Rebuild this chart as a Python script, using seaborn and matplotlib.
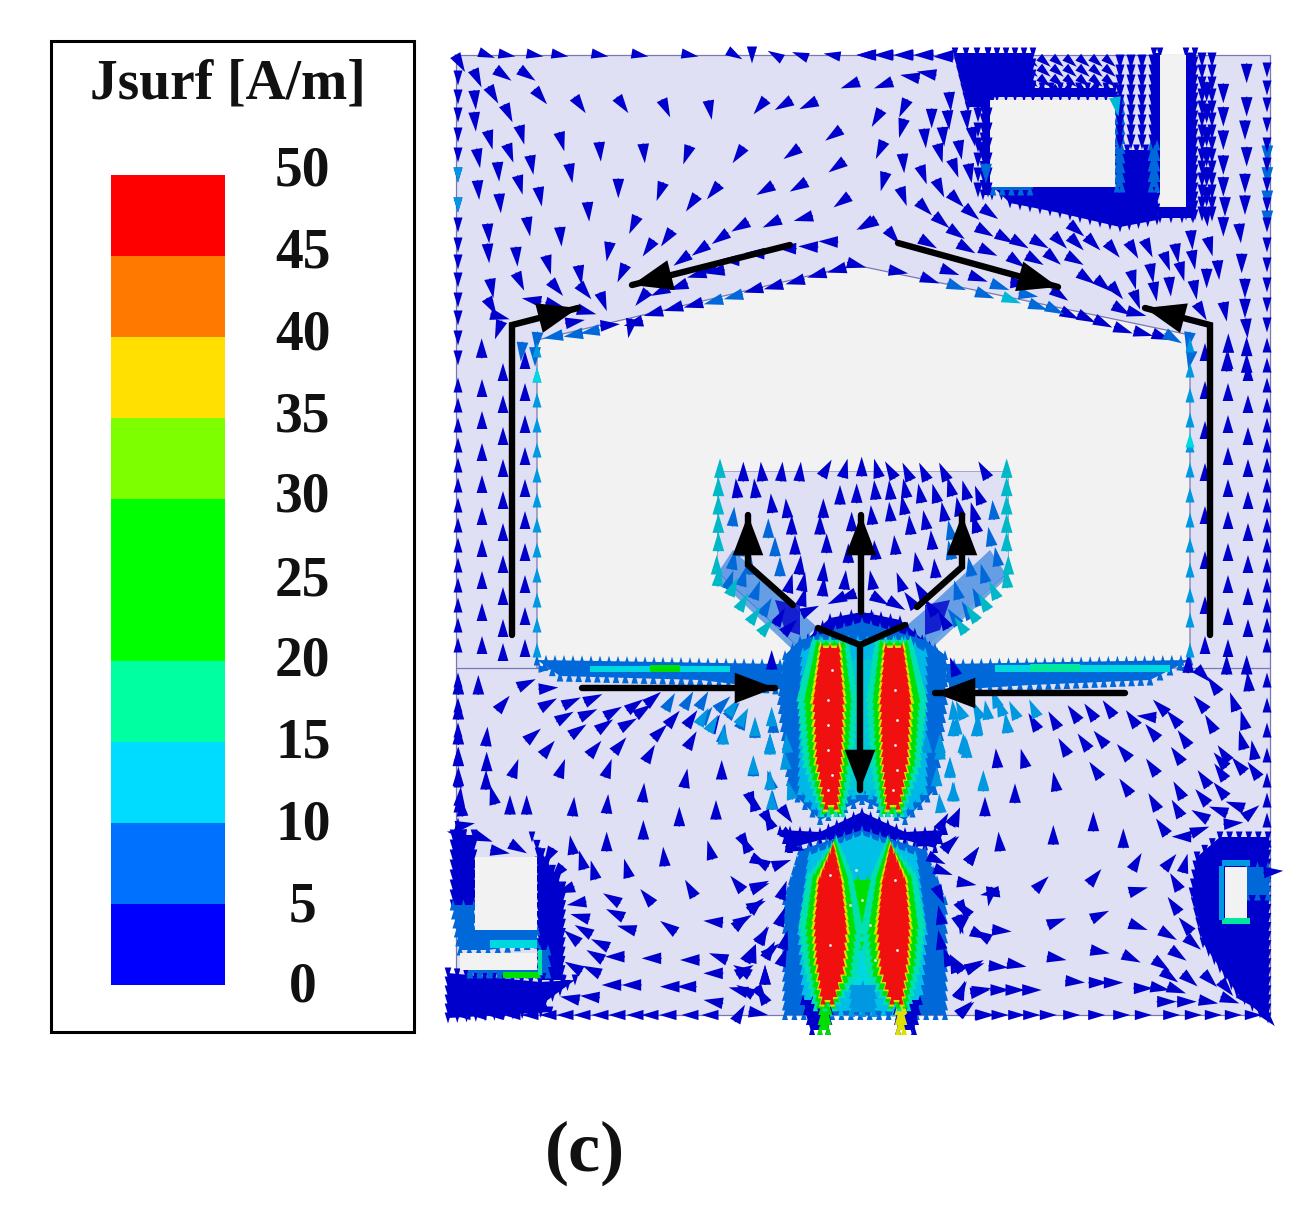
import numpy as np
import itertools
import matplotlib
matplotlib.use("Agg")
import matplotlib.pyplot as plt
from matplotlib.colors import ListedColormap
from matplotlib.patches import Polygon, Rectangle
from matplotlib.transforms import ScaledTranslation
import seaborn as sns

# ---------- legend data ----------
legend_title = "Jsurf [A/m]"
legend_ticks = ["50", "45", "40", "35", "30", "25", "20", "15", "10", "5", "0"]
legend_bins = [45, 40, 35, 30, 25, 20, 15, 10, 5, 0]
bin_colors = ["#0000ff", "#0070ff", "#00dcff", "#00ffa0", "#00ff00", "#00ff00",
              "#7dff00", "#ffe000", "#ff7800", "#ff0000"]
label_nudge = [4, 3, 2, 1, 1, -1, -1, -1, -2, -3, -3]

DARK, MID, SKY, CYAN, TEAL = "#0000cc", "#0068d8", "#0098e0", "#00d8e0", "#00e8a0"
GREEN, YELLOW, RED = "#00e000", "#e0e000", "#f01010"

nw_field = [(60,70,-60),(112,115,-65),(190,105,-35),(262,105,-35),(160,165,-60),(302,170,-50),(205,220,-65),
 (420,195,-55),(548,195,-55),(678,205,-65),(810,210,-80),(960,200,-130),(1030,195,-150),(1105,195,-155),(1230,135,-160),
 (150,300,-75),(210,340,-70),(245,285,-75),(365,305,-75),(480,335,-85),(612,340,-85),(740,345,-110),(895,345,-125),
 (1055,340,-145),(1180,285,-145),(105,180,-85),(105,245,-85),(115,355,-80),(175,395,-85),(275,375,-80),(392,400,-80),
 (115,450,-85),(240,435,-75),(180,490,-85),(300,470,-80),(535,445,-90),(660,455,-110),(755,490,-125),(820,455,-130),
 (975,450,-150),(1075,440,-150),(1190,380,-145),(1205,485,-145),(445,515,-85),(265,560,-80),(362,590,-85),(145,580,-85),
 (145,640,-85),(230,650,-85),(325,675,-75),(420,705,-80),(505,635,-100),(580,555,-115),(625,625,-125),(680,595,-125),
 (840,595,-145),(900,560,-150),(995,550,-155),(1090,535,-165),(1165,605,178),(1105,620,178),(1275,555,-150),(780,630,-145),
 (725,660,-145),(545,700,-115),(605,775,-130),(660,755,-155),(715,740,-160),(770,705,-165),(825,695,-170),(240,725,-65),
 (350,745,-50),(435,755,-50),(490,785,-70),(275,780,170),(155,745,-80),(155,800,-60),(175,870,-110),(125,925,90),(180,830,-15),
 (345,795,-15),(440,815,-15),(405,845,10),(510,855,5),(570,865,-100),(580,850,195),(640,820,195),(700,805,195),(760,795,195),
 (940,750,195),(1000,740,195),(1065,725,195),(1130,705,195),(1190,690,195),(1250,675,-15),
 (1040,625,178),(945,640,178),(870,660,178),(800,690,195)]
nw_mid = [(820,785,195),(880,770,195),(450,875,190),(400,885,190),(340,890,190),(290,905,-95),(245,935,-95),(285,950,-90)]

ne_field = [(70,135,-160),(50,235,-120),(130,205,-115),(125,265,-105),(60,330,-115),(130,370,-85),(70,425,-105),(190,405,-70),
 (130,470,-70),(240,445,-65),(195,505,-45),(290,480,-45),(245,545,-40),(335,520,-40),(290,580,-35),(390,520,-35),(375,575,-30),
 (435,595,-30),(320,625,-30),(385,635,-25),(480,610,-30),(540,610,-30),(600,605,-45),(650,610,-45),(470,665,-35),(525,660,-30),
 (580,655,-40),(645,660,-30),(205,610,-30),(100,590,-50),(25,555,-150),(115,695,-10),(210,720,-20),(270,695,-20),(355,715,-20),
 (480,730,-5),(630,825,-25),(680,835,-25),(730,850,-25),(790,870,-20),(850,880,-15),(905,890,-20),(600,765,-35),(680,715,-35),
 (730,735,-40),(770,755,-50),(785,810,-30),(830,820,-15),(820,720,-75),(830,780,-70),(875,700,-80),(885,755,-80),(930,740,-85),
 (865,625,-65),(920,665,-70),(965,695,-75),(1005,750,-80),(1025,815,-60),(950,640,-80),(1000,660,-80),(1040,715,-90),(1075,690,-85),
 (1095,815,-80),(995,600,-85),(1050,620,-75),(1090,440,-90),(1095,500,-90),(1090,560,-90),(1145,670,-90),(1155,745,-90),
 (1160,865,-85),(1155,805,-90),(1140,580,-85),(1155,495,-90),(1155,430,-90),(1160,350,-90),(1155,270,-90),(1160,200,-90),
 (1160,100,-90),(1040,155,-90),(1040,220,-90),(1040,290,-90),(1040,350,-90),(1040,410,-90),(1040,470,-90),(1040,530,-85),
 (1090,160,-90),(1090,230,-90),(1090,300,-90),(1090,375,-90),(820,630,-60),(760,630,-50),(700,610,-45),(650,570,-40),
 (1105,910,90),(1100,965,90),(1160,920,90),(1160,970,90),(215,235,-90),(195,295,-85),(250,290,-85),(300,330,-80),
 (240,340,-75),(285,385,-70),(330,400,-80),(270,185,-85),(320,240,-85),(265,240,-85),(340,290,-80),(370,340,-85),(150,110,170),
 (200,100,170),(130,45,180),(70,45,180),(20,45,180),(190,45,180),(250,50,180)]
ne_mid = [(290,740,-20),(375,765,-20),(420,740,-20),(505,765,-10),(535,800,-20),(585,810,-25),(940,895,-30),(985,905,-100),
 (990,960,-100),(378,400,-90),(1222,345,-90),(1222,410,-90),(1222,480,-90),(1222,540,-90)]
ne_teal = [(455,780,-20),(770,200,-80)]

sw_field = [(190,130,50),(260,70,25),(325,85,5),(325,130,30),(395,125,25),(460,115,25),(375,170,30),(445,160,25),(520,155,30),
 (585,135,35),(640,115,40),(415,210,35),(495,195,35),(565,190,30),(610,150,35),(280,225,40),(325,265,50),(465,265,50),(540,255,50),
 (660,215,45),(700,175,50),(755,175,55),(825,190,60),(755,240,60),(630,280,60),(140,230,85),(140,305,90),(138,360,90),(158,405,105),
 (225,325,70),(365,325,70),(505,325,70),(610,398,85),(737,355,80),(845,330,90),(210,435,90),(260,435,90),(400,440,85),(502,432,85),
 (718,470,90),(828,450,90),(940,425,105),(985,480,115),(610,510,90),(500,545,90),(395,555,100),(425,600,105),(460,630,105),(560,625,105),
 (672,590,95),(810,570,105),(915,550,115),(960,605,150),(890,670,130),(750,685,120),(620,710,130),(515,715,150),(525,760,155),(560,805,165),
 (685,800,145),(820,785,175),(905,785,40),(950,735,45),(960,680,20),(525,890,180),(635,895,180),(750,900,180),(835,890,160),(905,930,150),
 (820,940,180),(975,945,90),(940,880,75),(970,825,65),(990,870,60),(895,990,165),(965,1005,-55),(820,1025,170),(740,980,180),(690,980,180),
 (575,975,180),(515,975,180),(450,1010,175),(390,1015,170),(455,930,155),(400,920,150),(465,885,150),(480,850,155),(430,810,150),(395,830,140),
 (420,770,165),(410,730,-170),(375,690,-160),(350,640,-130),(325,590,-120),(75,495,10),(130,535,-20),(235,565,-30),(180,575,-10),(50,520,170),
 (115,75,90),(55,75,90),(55,150,90),(55,225,90),(55,290,90),(55,350,90),(60,410,85),(65,440,95),(900,1060,60)]
sw_mid = [(800,165,55),(850,220,80),(940,320,90),(990,360,105),(998,420,90),(990,250,90),(945,205,90),(910,180,65),(880,150,50),(850,130,45),
 (690,125,60),(745,120,60),(790,120,60),(1000,190,90)]

se_field = [(170,295,95),(250,295,105),(370,260,120),(430,245,125),(480,235,130),(550,275,130),(465,330,125),(635,320,125),(345,365,100),
 (555,380,125),(710,285,125),(730,235,125),(715,390,120),(640,425,120),(710,445,120),(785,410,130),(840,390,130),(790,355,125),(840,335,125),
 (895,315,130),(840,300,130),(940,330,125),(940,270,100),(905,240,105),(910,180,105),(880,125,110),(820,75,125),(780,130,130),(810,190,120),
 (850,280,125),(700,175,130),(660,140,135),(620,170,175),(575,175,125),(635,215,130),(505,145,125),(450,155,125),(400,160,125),(340,180,120),
 (280,185,120),(225,400,90),(135,440,90),(460,485,90),(340,525,90),(550,535,90),(178,545,95),(100,585,55),(35,548,40),(45,470,60),(665,500,125),
 (725,530,180),(780,510,20),(880,490,5),(935,455,40),(885,435,160),(835,450,160),(780,465,150),(590,605,60),(690,605,50),(735,610,75),(465,650,50),
 (305,670,45),(595,690,15),(705,665,120),(700,735,125),(735,795,130),(685,825,-30),(595,800,-20),(480,765,25),(350,785,20),(150,700,-170),
 (70,745,130),(65,795,-100),(125,825,150),(185,812,-5),(105,915,30),(40,910,110),(175,920,-5),(230,915,-10),(350,895,-10),(480,875,-10),
 (575,895,-25),(665,915,-35),(715,885,-35),(760,850,-40),(690,950,-35),(750,960,-40),(810,960,-45),(860,985,-50),(65,990,60),(125,990,10),
 (180,990,0),(225,990,0),(275,990,0),(405,965,-5),(475,968,0),(520,968,0),(610,985,0),(660,985,-10),(710,990,-20),(680,1025,0),(740,1025,0),
 (805,1025,-10),(870,1020,-20),(75,1045,45),(920,1020,-45),(985,1075,-50),(1000,635,5),(925,65,95),(860,15,90),(745,10,90),(920,15,90),(790,45,-45)]
se_edge_x = [130,180,230,275,325,395,470,545,610,695,760,820,880,940]
se_mid = [(130,360,90),(40,395,85),(30,320,90),(75,255,90),(0,260,90),(50,195,90),(115,195,85),(200,190,100),(140,150,100),(165,115,110),(280,145,115),
 (60,150,115),(220,150,115)]

patch_field = [(160,65,90),(215,65,95),(275,65,85),(330,65,85),(410,55,60),(465,55,75),(515,50,90),(560,55,105),(600,60,120),(650,65,115),
 (700,65,115),(760,65,115),(880,60,120),(450,135,90),(500,130,90),(555,120,95),(600,120,95),(645,115,100),(690,130,100),(735,130,105),(780,110,105),(825,120,105),
 (865,135,110),(400,175,90),(545,195,95),(600,185,95),(640,165,100),(705,210,100),(760,185,100),(805,170,100),(850,185,105),(390,225,90),(485,215,90),(660,225,95),
 (725,270,95),(855,220,105),(410,280,90),(305,225,90),(290,175,95),(245,160,95),(195,115,95),(140,115,95),(315,285,90),(475,310,90),(555,300,95),(615,285,95),
 (330,345,85),(400,365,85),(465,390,85),(545,390,100),(630,395,110),(680,335,100),(735,355,95),(340,395,80),(300,400,75),(400,410,85),(340,440,75),(690,420,120),
 (440,450,-155),(470,440,-160),(570,450,-30),(620,465,-30),(660,450,125),(720,470,125),(760,510,120),(270,500,60),(300,530,45),(360,480,25),(520,500,170),(460,510,175),(580,520,15),
 (245,630,90),(790,650,110)]
patch_mid = [(255,290,90),(270,350,90),(235,235,90),(780,240,100),(780,300,100),(130,330,80),(160,380,75),(200,420,70),(230,470,60),(120,390,70),
 (180,345,85),(880,370,105),(840,350,100),(800,420,105),(860,440,115),(830,480,120),(790,500,125),(900,260,100),(910,180,95),(130,200,85),(920,320,100),(150,290,85)]
patch_teal = [(90,55,90),(85,110,90),(85,165,90),(85,220,90),(85,275,90),(80,345,90),(85,380,85),(130,410,65),(160,455,60),(195,495,55),(230,530,50),
 (950,55,90),(950,110,90),(950,165,90),(950,220,90),(950,275,90),(955,345,90),(950,385,95),(910,420,115),(880,455,120),(845,490,125),(810,525,125)]
feed_fan = [(245,800,90),(195,830,90),(100,855,90),(790,830,90),(860,830,90),(950,820,95),(820,880,90),(750,880,90),(240,880,90),(290,880,95),
 (160,800,60),(130,770,55),(860,780,115),(930,770,110),(790,780,95),(40,800,60),(70,820,60)]
feed_low = [(40,75,90),(90,120,90),(95,180,90),(630,85,90),(640,155,95),(590,110,90),(600,190,95),(730,125,90),(680,25,90),(90,15,90),
 (600,30,90),(135,60,95),(150,150,105),(560,10,90)]
feed_dark = [(35,185,-70),(85,240,-60),(140,225,-55),(150,290,-35),(15,310,-60),(60,365,-25),(125,370,20),(165,325,-10),(650,230,70),(610,245,60),
 (630,310,50),(700,345,55),(560,310,-15),(590,360,-25),(610,395,-20),(680,430,-10),(600,465,-65),(750,470,-100),(670,510,-60),(660,555,-70),(720,585,-25),
 (60,435,25),(50,495,25),(10,540,30),(70,585,55),(30,640,60),(15,690,30),(75,705,90),(65,765,120),(15,750,150),(95,630,40),(130,450,70),(125,530,70),(135,600,75),
 (130,650,70),(600,525,100),(600,600,100),(620,650,110),(650,670,125),(705,680,20),(665,750,70),(720,755,10),(680,805,40),(735,825,0),(55,820,-10),(215,850,-90),(515,850,-90)]
speck_x = [828,828,828,832,828,832,895,897,895,897,893,830,830,895,897,856,862,870,850,875]
speck_y = [700,725,750,775,790,670,690,720,745,770,790,875,945,880,950,870,900,925,905,960]

# ---------- edges of the structure (arrows running along the outline) ----------
top_edge_x = [487,507,535,560,600,640,690,735,752,775,800,832,865,885,905,925,945]
top_edge_angle = [-20,-10,-10,-10,-10,-10,-10,-30,-90,150,160,170,180,180,180,180,180]
left_down_y = [78,97,115,135,155,175,205,225,245,262,280,300,318,338,358]
left_up_y = [385,405,425,445,465,485,505,525,545,565,585,605,625,645,680,705,730,755,780,805,825]
right_down_y = [70,88,105,125,145,165,185,205,225,245,265,285,305,325]
right_up_y = [345,365,385,405,425,445,465,485,505,525,545,565,585,605,625,645,680,705,730,755,780,800,820,840]
bottom_left_x = [462,478,495,512,530,548,565,582,600,617,635,650,668,690,710]
gable_left_col = [(482,388),(482,420),(482,452),(482,484),(482,516),(482,548),(482,580),(482,612),(482,645),
 (503,372),(503,404),(503,436),(503,468),(503,500),(503,532),(503,564),(503,596),(503,628),(503,652),
 (525,360),(525,392),(525,424),(525,456),(525,488),(525,520),(525,552),(525,584),(525,616),(525,648),
 (1228,360),(1228,392),(1228,424),(1228,456),(1228,488),(1228,520),(1228,552),(1228,584),(1228,616),(1228,648),
 (1248,372),(1248,404),(1248,436),(1248,468),(1248,500),(1248,532),(1248,564),(1248,596),(1248,628),
 (1205,352),(1205,390),(1205,430),(1205,472),(1205,515),(1205,560),(1205,605),(1205,645)]
wall_left_y = [350,375,400,425,450,475,500,525,550,575,600,625,650]
wall_right_y = [345,370,395,420,445,470,495,520,545,570,595,620,650]

dense_cols_a = [1120,1131,1142,1153]
dense_rows_a = [62,72,82,92,102,112,122,132,142]
dense_cols_b = [993,1006,1019,1032,1045,1058,1071,1084,1097,1110]
dense_rows_b = [62,72,82,92]
dense_cols_c = [1192,1202,1212]
dense_rows_c = [60,72,84,96,108,120,132,144,156,168,180,192,204,214]
dense_cols_d = [978,988]
dense_rows_d = [100,115,130,145,160,175,190]

strip_left_x = [545,565,585,605,625,645,665,685,705,725,745,765,785]
strip_right_x = [945,965,985,1005,1025,1045,1065,1085,1105,1125,1145,1165,1182]

# ---------- shapes ----------
board = [(456,55),(1270,55),(1270,1015),(456,1015)]
slot = [(537,340),(855,265),(1190,335),(1190,668),(945,668),(925,645),(1008,572),(1008,472),(718,472),(718,572),(800,648),(790,668),(537,668)]
rect_ne = [(990,100),(1115,100),(1115,187),(990,187)]
notch_ne = [(1160,55),(1186,55),(1186,207),(1160,207)]
rect_sw_a = [(475,857),(537,857),(537,930),(475,930)]
rect_sw_b = [(460,953),(537,953),(537,970),(460,970)]
rect_se = [(1225,867),(1247,867),(1247,918),(1225,918)]

dark_blocks = [
 [(955,53),(988,53),(988,107),(968,107)],
 [(988,53),(1033,53),(1033,97),(988,97)],
 [(1033,88),(1115,88),(1115,97),(1033,97)],
 [(1154,53),(1160,53),(1160,190),(1154,190)],
 [(1186,53),(1195,53),(1195,215),(1186,215)],
 [(993,187),(1157,187),(1157,220),(1120,227),(1060,213),(1010,203)],
 [(1118,150),(1155,150),(1155,187),(1118,187)],
 [(983,100),(992,100),(992,195),(983,195)],
 [(1155,207),(1193,207),(1193,218),(1160,218)],
 # south-west
 [(453,835),(474,835),(474,905),(453,905)],
 [(448,973),(540,982),(575,980),(545,1002),(550,1012),(448,1018)],
 [(532,837),(563,887),(562,980),(540,980),(538,853)],
 # south-east
 [(1220,837),(1268,837),(1268,1018),(1260,1013),(1237,993),(1203,943),(1192,893),(1197,857)],
]
mid_blocks = [
 [(453,905),(474,905),(474,930),(537,930),(537,943),(488,950),(460,950)],
 [(470,973),(548,973),(548,950),(540,950),(540,970),(470,970)],
 [(1117,100),(1122,100),(1122,187),(1117,187)],
 [(1151,145),(1157,145),(1157,187),(1151,187)],
 [(1247,867),(1268,867),(1268,895),(1247,895)],
 [(537,660),(780,664),(785,690),(700,680),(560,676)],
 [(945,664),(1190,660),(1150,680),(1030,685),(950,690)],
 [(993,183),(1030,183),(1030,190),(993,190)],
]
patch_bands = [
 [(715,577),(733,550),(790,603),(817,627),(793,650)],
 [(1008,577),(990,550),(933,603),(905,627),(930,650)],
]
patch_knots = [[(775,600),(800,605),(800,635),(785,630)], [(925,605),(950,600),(940,630),(925,635)]]
hot_strips = [
 ([(590,666),(730,666),(730,672),(590,672)], CYAN),
 ([(650,665),(680,665),(680,672),(650,672)], GREEN),
 ([(995,665),(1170,665),(1170,672),(995,672)], CYAN),
 ([(1030,664),(1080,664),(1080,672),(1030,672)], TEAL),
 ([(490,940),(537,940),(537,948),(490,948)], CYAN),
 ([(503,972),(540,972),(540,978),(503,978)], GREEN),
 ([(538,950),(542,950),(542,975),(538,975)], TEAL),
 ([(1222,860),(1250,860),(1250,866),(1222,866)], SKY),
 ([(1222,918),(1250,918),(1250,924),(1222,924)], TEAL),
 ([(1219,866),(1224,866),(1224,920),(1219,920)], SKY),
]

feed_layers = [
 ([(793,652),(830,618),(862,612),(900,620),(937,652)], DARK),
 ([(785,655),(800,640),(862,622),(925,640),(945,655),(945,700),(935,790),(905,820),(862,800),(820,820),(790,790),(780,700)], MID),
 ([(803,652),(820,640),(905,640),(925,652),(925,790),(905,812),(862,790),(820,812),(800,790)], "#00b8e8"),
 ([(845,660),(880,660),(880,790),(845,790)], "#00c8d8"),
 ([(780,830),(820,832),(862,812),(905,832),(945,830),(935,848),(905,840),(862,838),(820,840),(790,848)], DARK),
 ([(800,850),(862,830),(925,850),(945,900),(945,1015),(785,1015),(785,900)], MID),
 ([(810,855),(862,835),(915,855),(925,930),(920,1000),(905,1012),(862,1010),(820,1012),(805,1000),(800,930)], "#00c0e8"),
 ([(848,880),(878,880),(882,950),(846,950)], GREEN),
 ([(846,950),(882,950),(880,985),(848,985)], CYAN),
 ([(852,985),(874,985),(874,1012),(852,1012)], SKY),
 ([(803,1000),(832,1000),(828,1030),(812,1030)], DARK),
 ([(895,1000),(920,1000),(914,1030),(898,1030)], DARK),
 ([(822,1000),(830,1000),(828,1030),(820,1030)], GREEN),
 ([(897,1000),(905,1000),(904,1030),(898,1030)], YELLOW),
]
lobe_up = [(822,648),(838,648),(842,700),(840,760),(836,805),(826,805),(818,760),(815,700)]
lobe_low = [(833,848),(840,880),(845,930),(842,970),(832,1000),(823,1000),(818,960),(816,925),(820,880)]
lobe_steps = [(2.1,1.10,"#00e0b0"),(1.6,1.06,GREEN),(1.18,1.03,YELLOW),(1.0,1.0,RED)]

# ---------- black guide arrows ----------
guide_lines = [[(512,635),(512,325),(578,308)], [(1210,635),(1210,325),(1145,308)],
               [(790,245),(632,285)], [(898,243),(1058,287)],
               [(582,688),(775,688)], [(1125,693),(935,693)],
               [(861,612),(861,515)], [(793,605),(748,565),(748,515)],
               [(917,607),(962,567),(962,515)], [(860,645),(860,790)]]
guide_fork = [(818,628),(860,645),(905,625)]

# ---------- figure ----------
sns.set_theme(style="white")
plt.rcParams["font.family"] = ["Liberation Serif", "DejaVu Serif"]
W, H = 1308, 1226
fig = plt.figure(figsize=(W/100, H/100), dpi=100, facecolor="white")
ax = fig.add_axes([0, 0, 1, 1])
ax.set_xlim(0, W); ax.set_ylim(H, 0); ax.axis("off")


def poly(points, color, z=1, **kw):
    ax.add_patch(Polygon(points, closed=True, facecolor=color, edgecolor=kw.pop("ec", "none"), zorder=z, **kw))


def arrows(items, color, ox=0, oy=0, k=1.0, L=20, w=1.3, z=3):
    xs = np.array([i[0] for i in items], float) * k + ox
    ys = np.array([i[1] for i in items], float) * k + oy
    a = np.radians([i[2] for i in items])
    ax.quiver(xs, ys, L*np.cos(a), -L*np.sin(a), color=color, angles="xy", scale_units="xy", scale=1,
              units="xy", width=w, headwidth=9, headlength=15, headaxislength=15, minlength=0,
              pivot="mid", linewidth=0, zorder=z)


def jag(points, color, angle=90, step=9, L=11, z=3):
    """Rough the outline of a region with small triangles of its own colour."""
    p = np.asarray(points, float)
    items = []
    for a, b in zip(p, np.roll(p, -1, axis=0)):
        n = max(int(np.hypot(*(b - a)) / step), 1)
        for t in range(n):
            q = a + (b - a) * t / n
            items.append((q[0], q[1], angle))
    arrows(items, color, L=L, w=0.75, z=z)


poly(board, "#e0e0f4", 1)
edge = "#7a78b4"
poly(slot, "#f2f2f2", 1.2, ec=edge, lw=0.9)
for r in [rect_ne, notch_ne, rect_sw_a, rect_sw_b, rect_se]:
    poly(r, "#f2f2f2", 2.2)
ax.plot([456,1270,1270,456,456], [55,55,1015,1015,55], color=edge, lw=0.9, zorder=1.1)
ax.plot([456,537], [668,668], color=edge, lw=0.9, zorder=1.1)
ax.plot([1190,1270], [668,668], color=edge, lw=0.9, zorder=1.1)
poly([(718,472),(1008,472),(1008,572),(925,648),(945,668),(790,668),(800,648),(718,572)], "#e0e0f4", 1.3)

for b in patch_bands:
    poly(b, MID, 2, alpha=0.55)
for b in patch_knots:
    poly(b, DARK, 2, alpha=0.8)
for b in dark_blocks:
    poly(b, DARK, 2)
    jag(b, DARK, -90, z=2.05)
for b in mid_blocks:
    poly(b, MID, 2.1)
    jag(b, MID, 90, z=2.15)
for b, c in hot_strips:
    poly(b, c, 2.4)

# dense arrows around the north-east window
for cols, rows in [(dense_cols_a, dense_rows_a), (dense_cols_b, dense_rows_b), (dense_cols_c, dense_rows_c), (dense_cols_d, dense_rows_d)]:
    pts = [(x, y, -90 if cols is not dense_cols_b else -40) for x, y in itertools.product(cols, rows)]
    arrows(pts, DARK, L=15, w=1.0)

# field
k = 1/3
arrows(nw_field, DARK, 440, 40, k)
arrows(nw_mid, MID, 440, 40, k)
arrows(ne_field, DARK, 860, 40, k)
arrows(ne_mid, MID, 860, 40, k)
arrows(ne_teal, "#00b8d8", 860, 40, k)
arrows(sw_field, DARK, 440, 660, k)
arrows(sw_mid, MID, 440, 660, k)
arrows(se_field, DARK, 940, 660, k)
arrows(se_mid, SKY, 940, 660, k)
arrows([(x, 1015, 0) for x in [940 + v/3 for v in se_edge_x]], DARK, L=17)
arrows([(x, 1015, 180) for x in bottom_left_x], DARK, L=17)
arrows([(x, 55, a) for x, a in zip(top_edge_x, top_edge_angle)], DARK, L=17)
arrows([(458, y, -90) for y in left_down_y], DARK, L=15, w=1.1)
arrows([(458, y, 90) for y in left_up_y], DARK, L=15, w=1.1)
arrows([(458, 175, -90), (458, 205, -90)], SKY, L=15, w=1.1, z=3.1)
arrows([(1267, y, -90) for y in right_down_y], DARK, L=15, w=1.1)
arrows([(1267, y, 90) for y in right_up_y], DARK, L=15, w=1.1)
arrows([(x, y, 90) for x, y in gable_left_col], DARK, L=18)
arrows([(537, y, 90) for y in wall_left_y], SKY, L=15, w=1.1)
arrows([(1190, y, 90) for y in wall_right_y], SKY, L=15, w=1.1)
arrows([(537, 375, 90), (1190, 440, 90)], CYAN, L=15, w=1.1, z=3.1)
arrows([(x, 669, 0) for x in strip_left_x], MID, L=13, w=1.0, z=2.2)
arrows([(x, 669, 180) for x in strip_right_x], MID, L=13, w=1.0, z=2.2)

# radiating patch
arrows(patch_field, DARK, 690, 450, k)
arrows(patch_mid, MID, 690, 450, k)
arrows(patch_teal, "#00b8c8", 690, 450, k)

# feed line
for pts, c in feed_layers:
    poly(pts, c, 4)
    jag(pts, c, 90, L=10, z=4)
for lobe in (lobe_up, lobe_low):
    p = np.array(lobe, float)
    cx, cy = p.mean(axis=0)
    for sx, sy, c in lobe_steps:
        q = np.column_stack([cx + (p[:, 0]-cx)*sx, cy + (p[:, 1]-cy)*sy])
        m = np.column_stack([1724 - q[:, 0], q[:, 1]])
        poly(q, c, 4.5)
        jag(q, c, 90, step=7, L=9, z=4.5)
        poly(m, c, 4.5)
        jag(m, c, 90, step=7, L=9, z=4.5)
ax.scatter(speck_x, speck_y, s=4, c="#f4f4f4", linewidths=0, zorder=4.6)
arrows(feed_fan, SKY, 690, 450, k, z=4.2)
arrows(feed_low, SKY, 740, 740, k, z=4.2)
arrows(feed_dark, DARK, 740, 740, k, z=4.3)

# guide arrows
for line in guide_lines:
    xs, ys = zip(*line)
    ax.plot(xs, ys, color="black", lw=4.6, zorder=7, solid_capstyle="round", solid_joinstyle="miter")
    ax.annotate("", xy=line[-1], xytext=line[-2], zorder=8,
                arrowprops=dict(arrowstyle="-|>,head_length=29,head_width=11", mutation_scale=1, color="black",
                                lw=0, shrinkA=0, shrinkB=0))
ax.plot(*zip(*guide_fork), color="black", lw=4.6, zorder=7, solid_capstyle="round")

# legend frame and title
ax.add_patch(Rectangle((51, 41), 363, 991, facecolor="white", edgecolor="black", lw=2.2, zorder=0.5))
ax.text(228, 85, legend_title, fontsize=40, fontweight="bold", ha="center", va="center", color="#111111")
ax.text(585, 1153, "(c)", fontsize=52, fontweight="bold", ha="center", va="center", color="#111111")

# legend scale, through seaborn
ax_leg = fig.add_axes([111/W, 1-985/H, 114/W, 810/H])
ax_leg.patch.set_alpha(0)
bins = np.array(legend_bins).reshape(-1, 1)
sns.heatmap(bins, ax=ax_leg, cmap=ListedColormap(bin_colors), vmin=0, vmax=50, cbar=False, xticklabels=False, linewidths=0)
ax_leg.yaxis.tick_right()
ax_leg.set_yticks(np.arange(len(legend_ticks)))
ax_leg.set_yticklabels(legend_ticks, rotation=0, ha="center", va="center", fontsize=40, fontweight="bold", color="#111111")
ax_leg.tick_params(axis="y", length=0, pad=56)
ax_leg.set_ylim(len(legend_bins), 0)
for lab, dy in zip(ax_leg.get_yticklabels(), label_nudge):
    lab.set_transform(lab.get_transform() + ScaledTranslation(0, dy/100, fig.dpi_scale_trans))

fig.savefig("out.png", dpi=100, facecolor="white")
